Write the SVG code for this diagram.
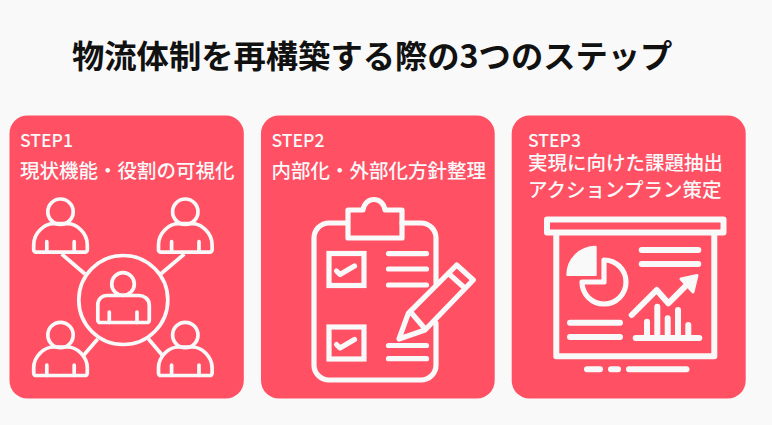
<svg xmlns="http://www.w3.org/2000/svg" width="772" height="425" viewBox="0 0 772 425">
<style>
text{font-family:"Noto Sans CJK JP","Noto Sans",sans-serif}
.title{font-size:32.3px;font-weight:700;fill:#111}
.step{font-size:17.6px;font-weight:500;fill:#f9f9f9}
.lab{font-size:19.5px;font-weight:500;fill:#f9f9f9}
.card{fill:#ff5064}
.ln{fill:none;stroke:#f9f9f9;stroke-linecap:round;stroke-linejoin:round}
.w3{stroke-width:3.7}.w5{stroke-width:5.2}.w6{stroke-width:6}
</style>
<defs>
<g id="person" class="ln w3">
<circle cx="0" cy="0" r="12.7"/>
<path d="M-24.500 40.500H24.500a2.300 2.300 0 0 0 2.300-2.300V33C26.800 21 16 12 7 12H-7C-16 12-26.800 21-26.800 33v5.200a2.300 2.300 0 0 0 2.300 2.300Z"/>
<path d="M-13.700 30V40.500M13.700 30V40.500"/>
</g>
<g id="box"><rect x="329" y="0" width="35" height="32" class="ln w5" style="stroke-linecap:butt;stroke-linejoin:miter"/><path d="M336.500 17.500L340 21 354.500 12.500" class="ln w5"/></g>
</defs>
<rect width="772" height="425" fill="#f9f9f9"/>
<text class="title" x="72" y="68">物流体制を再構築する際の3つのステップ</text>
<g id="card1">
<rect class="card" x="9.500" y="115.500" width="234.300" height="283" rx="18"/>
<text class="step" x="20" y="146.500">STEP1</text>
<text class="lab" x="20" y="178">現状機能・役割の可視化</text>
<use href="#person" x="60.500" y="211.700"/>
<use href="#person" x="185.300" y="211.700"/>
<use href="#person" x="60.500" y="335"/>
<use href="#person" x="185.300" y="335"/>
<circle class="ln w3" cx="123.300" cy="300" r="44.500"/>
<g class="ln w3">
<circle cx="123" cy="284" r="11.300"/>
<path d="M100 322.500H147a2.300 2.300 0 0 0 2.300-2.300V305C149.300 299 144 295.500 139 295.500H107C102 295.500 97.800 299 97.800 305v15.200a2.300 2.300 0 0 0 2.300 2.300Z"/>
<path d="M109.300 312V322.500M137 312V322.500"/>
</g>
</g>
<g id="connectors" class="ln w3" style="stroke-linecap:butt">
<path d="M61.700 254L85 274M184.300 254L160.700 274M83 356L97.700 339M163 356L148.300 338.700"/>
</g>
<g id="card2">
<rect class="card" x="261" y="115.500" width="233.700" height="283" rx="18"/>
<text class="step" x="271.500" y="146.500">STEP2</text>
<text class="lab" x="271.500" y="178">内部化・外部化方針整理</text>
<path class="ln w5" d="M347 223H329a15 15 0 0 0-15 15V365a15 15 0 0 0 15 15H421a15 15 0 0 0 15-15V323M436 283V238a15 15 0 0 0-15-15H402"/>
<path class="ln w5" d="M348 210H363C365 196 383 196 385 210H402V238H348Z" style="stroke-linecap:butt"/>
<use href="#box" x="0" y="253.500"/>
<use href="#box" x="0" y="327"/>
<path class="ln w5" d="M388.500 253.700H426.500M388.500 269H426.500M388.500 285H426.500M388.500 345.500H426.500M388.500 358.700H426.500"/>
<path class="ln w5" d="M399 339L408.300 313.300 456.700 265 473.300 280 425 330ZM448.300 273.300L465 288.300M411.700 313.300L423.300 326.700"/>
</g>
<g id="card3">
<rect class="card" x="511.700" y="115.500" width="234" height="283" rx="18"/>
<text class="step" x="528" y="146.500">STEP3</text>
<text class="lab" x="528" y="170">実現に向けた課題抽出</text>
<text class="lab" x="528" y="197">アクションプラン策定</text>
<rect class="ln w6" x="547" y="219.500" width="176.500" height="13"/>
<path class="ln w6" d="M556.300 233V356.300H714.300V233"/>
<path d="M595.700 246.700V275H567.300A28.300 28.300 0 0 1 595.700 246.700Z" fill="#f9f9f9" stroke="#f9f9f9" stroke-width="2" stroke-linejoin="round"/>
<path class="ln w5" d="M604 260A22 22 0 1 1 582 282H604Z"/>
<path class="ln w6" d="M641.700 250H698.300M641.700 264H698.300M570 322.700H620M570 337H620M635.700 338H699.300M647 321.700V338M657.300 306.700V338M667.700 318.300V338M678 310V338M688.300 325V338M631.700 315L656.700 290 668.300 303.300 690 281.700"/>
<path d="M697 275.500L681 279 693 292Z" fill="#f9f9f9" stroke="#f9f9f9" stroke-width="3" stroke-linejoin="round"/>
<path class="ln w6" d="M587 369.300H600M611 369.300H618M629 369.300H686.500"/>
</g>
</svg>
